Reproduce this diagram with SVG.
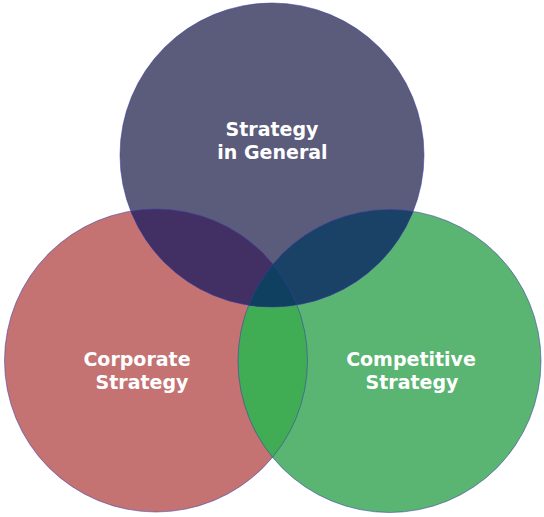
<svg xmlns="http://www.w3.org/2000/svg" width="544" height="517" viewBox="0 0 544 517">
  <defs>
    <style>
      .lbl { font-family: "DejaVu Sans", Verdana, sans-serif; font-weight: bold; font-size: 19px; fill: #ffffff; text-anchor: middle; }
      .edge { fill: none; stroke: #3c3ca8; stroke-width: 1; stroke-opacity: 0.55; }
    </style>
    <clipPath id="clipL"><circle cx="156" cy="360.5" r="151.5"/></clipPath>
    <clipPath id="clipR"><circle cx="389.5" cy="361" r="151.5"/></clipPath>
    <clipPath id="clipT"><circle cx="272" cy="155" r="152"/></clipPath>
  </defs>
  <rect width="544" height="517" fill="#ffffff"/>

  <g id="node-corporate">
    <circle cx="156" cy="360.5" r="151.5" fill="#c47272"/>
  </g>
  <g id="node-competitive">
    <circle cx="389.5" cy="361" r="151.5" fill="#5ab472"/>
  </g>
  <g id="overlap-corporate-competitive" clip-path="url(#clipL)">
    <circle cx="389.5" cy="361" r="151.5" fill="#40ad55"/>
  </g>
  <g id="node-general">
    <circle cx="272" cy="155" r="152" fill="#5b5b7b"/>
  </g>
  <g id="overlaps-general" clip-path="url(#clipT)">
    <circle cx="156" cy="360.5" r="151.5" fill="#423064"/>
    <circle cx="389.5" cy="361" r="151.5" fill="#1a4266"/>
    <g clip-path="url(#clipL)">
      <circle cx="389.5" cy="361" r="151.5" fill="#0f4060"/>
    </g>
  </g>
  <g id="outlines">
    <circle class="edge" cx="156" cy="360.5" r="151.5"/>
    <circle class="edge" cx="389.5" cy="361" r="151.5"/>
    <circle class="edge" cx="272" cy="155" r="152"/>
  </g>
  <g id="labels">
    <text class="lbl" x="272" y="136">Strategy</text>
    <text class="lbl" x="272.5" y="159">in General</text>
    <text class="lbl" x="137" y="366">Corporate</text>
    <text class="lbl" x="142" y="389">Strategy</text>
    <text class="lbl" x="411" y="366">Competitive</text>
    <text class="lbl" x="412" y="389">Strategy</text>
  </g>
</svg>
